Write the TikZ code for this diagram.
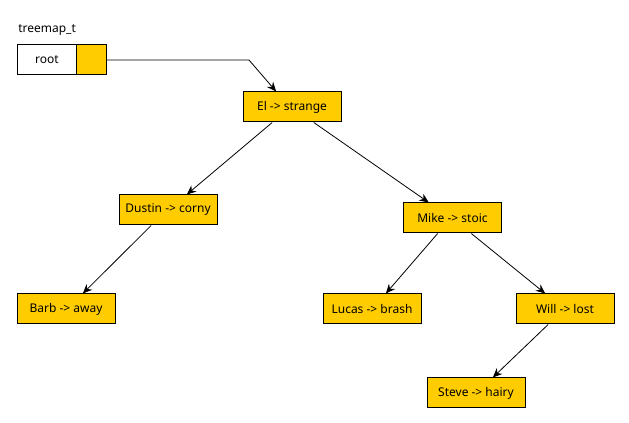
\documentclass[tikz,border=0pt]{standalone}
\usepackage{fontspec}
\setmainfont{Noto Sans}
\usepackage{tikz}
\usetikzlibrary{arrows.meta,calc}
\definecolor{keyfill}{HTML}{FFCC00}

\begin{document}
\begin{tikzpicture}[x=0.75pt, y=-0.75pt,
    every node/.style={font=\fontsize{9}{11}\selectfont},
    pair/.style={draw, line width=0.75pt, fill=keyfill, inner sep=0pt,
      minimum width=73.5pt, minimum height=22.5pt},
    link/.style={line width=0.6pt, -{Stealth[length=7pt, width=6pt]}}]
    \useasboundingbox (0,0) rectangle (629,423);
    % Root pointer
    \node[anchor=west, inner sep=0pt] (title) at (18,30) {treemap\_t};
    \node[draw, line width=0.75pt, fill=white, inner sep=0pt,
      minimum width=44.8pt, minimum height=22.5pt] (rootkey) at (47,60) {root};
    \node[draw, line width=0.75pt, fill=keyfill, inner sep=0pt,
      minimum width=22.2pt, minimum height=22.5pt] (rootptr) at (91.5,60) {};
    % Tree nodes
    \node[pair] (el)     at (292,107)   {El -> strange};
    \node[pair] (dustin) at (168,210)   {Dustin -> corny};
    \node[pair] (mike)   at (452.5,218) {Mike -> stoic};
    \node[pair] (barb)   at (66,309)    {Barb -> away};
    \node[pair] (lucas)  at (372,309)   {Lucas -> brash};
    \node[pair] (will)   at (565,309)   {Will -> lost};
    \node[pair] (steve)  at (476,393)   {Steve -> hairy};
    % Links
    \coordinate (bend) at (249,60);
    \draw[link] (rootptr.east) -- (bend)
      -- ($(el.north west)!0.34!(el.north east)$);
    \draw[link] ($(el.south west)!0.3!(el.south east)$)
      -- ($(dustin.north west)!0.69!(dustin.north east)$);
    \draw[link] ($(el.south west)!0.72!(el.south east)$)
      -- ($(mike.north west)!0.26!(mike.north east)$);
    \draw[link] ($(dustin.south west)!0.33!(dustin.south east)$)
      -- ($(barb.north west)!0.67!(barb.north east)$);
    \draw[link] ($(mike.south west)!0.35!(mike.south east)$)
      -- ($(lucas.north west)!0.64!(lucas.north east)$);
    \draw[link] ($(mike.south west)!0.69!(mike.south east)$)
      -- ($(will.north west)!0.3!(will.north east)$);
    \draw[link] ($(will.south west)!0.33!(will.south east)$)
      -- ($(steve.north west)!0.67!(steve.north east)$);
\end{tikzpicture}
\end{document}
